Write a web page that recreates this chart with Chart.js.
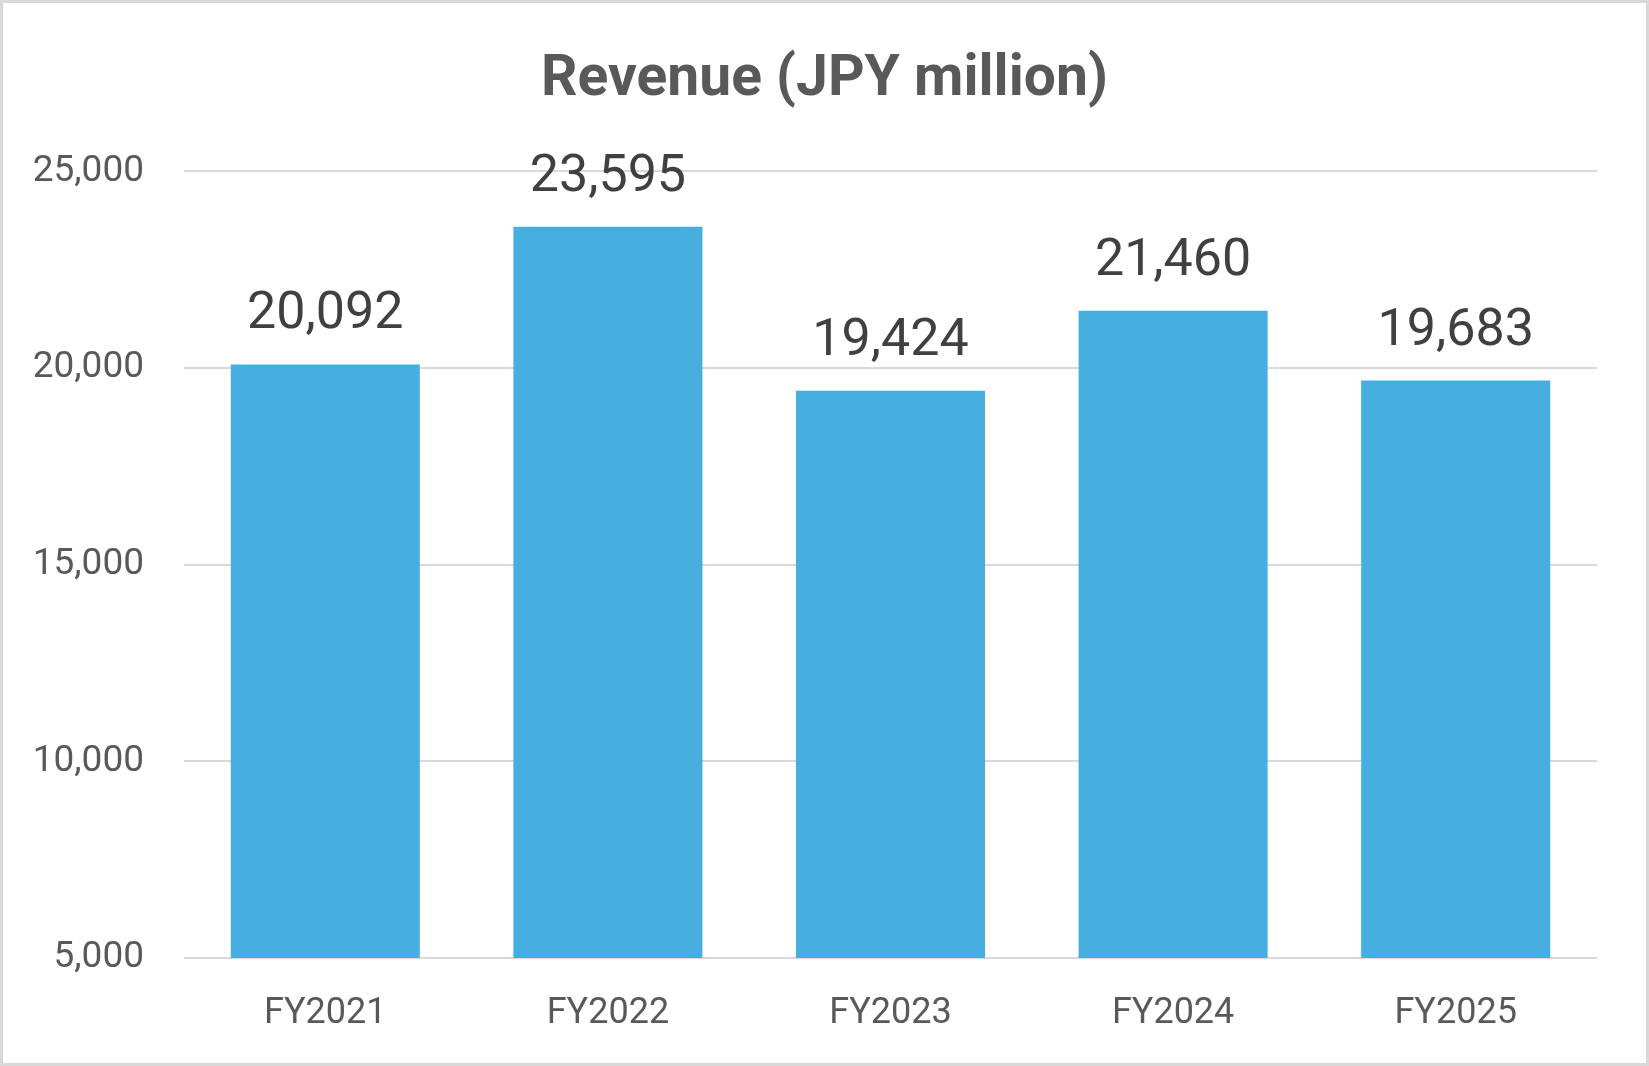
<!DOCTYPE html>
<html>
<head>
<meta charset="utf-8">
<script src="https://cdn.jsdelivr.net/npm/chart.js@4.4.1/dist/chart.umd.min.js"></script>
<style>
  html, body { margin: 0; padding: 0; background: #ffffff; overflow: hidden; }
  #wrap { position: absolute; left: 0; top: 0; width: 1649px; height: 1066px; }
  #frame { position: absolute; left: 0; top: 0; width: 1649px; height: 1066px; box-sizing: border-box; border: 3px solid #d9d9d9; pointer-events: none; }
</style>
</head>
<body>
<div id="wrap"><canvas id="c" width="1649" height="1066"></canvas></div>
<div id="frame"></div>
<script>
const categories = ["FY2021", "FY2022", "FY2023", "FY2024", "FY2025"];
const revenue = [20092, 23595, 19424, 21460, 19683];
const yTicks = [5000, 10000, 15000, 20000, 25000];
const titleText = "Revenue (JPY million)";

const fmt = v => Number(v).toLocaleString('en-US');

const valueLabels = {
  id: 'valueLabels',
  afterDatasetsDraw(chart) {
    const ctx = chart.ctx;
    const meta = chart.getDatasetMeta(0);
    ctx.save();
    ctx.font = '52px Roboto';
    ctx.fillStyle = '#404040';
    ctx.textAlign = 'center';
    ctx.textBaseline = 'alphabetic';
    meta.data.forEach((bar, i) => {
      ctx.fillText(fmt(revenue[i]), bar.x, bar.y - 36);
    });
    ctx.restore();
  }
};

const centerTitle = {
  id: 'centerTitle',
  afterLayout(chart) {
    const t = chart.titleBlock;
    if (t) { t.left = 0; t.right = chart.width; t.width = chart.width; }
  }
};

new Chart(document.getElementById('c'), {
  type: 'bar',
  data: {
    labels: categories,
    datasets: [{
      data: revenue,
      backgroundColor: '#46afe0',
      borderWidth: 0,
      categoryPercentage: 1.0,
      barPercentage: 0.669
    }]
  },
  options: {
    responsive: false,
    animation: false,
    devicePixelRatio: 1,
    layout: { padding: { left: 0, right: 52, top: 0, bottom: -4 } },
    plugins: {
      legend: { display: false },
      tooltip: { enabled: false },
      title: {
        display: true,
        text: titleText,
        color: '#595959',
        font: { family: 'Roboto', size: 57, weight: 'bold', lineHeight: 1.2 },
        padding: { top: 47, bottom: 56 }
      }
    },
    scales: {
      x: {
        grid: { display: false, drawTicks: false },
        border: { display: false },
        ticks: {
          color: '#595959',
          font: { family: 'Roboto', size: 36, lineHeight: 1.0 },
          padding: 38,
          maxRotation: 0
        }
      },
      y: {
        min: 5000,
        max: 25000,
        afterBuildTicks(scale) { scale.ticks = yTicks.map(v => ({ value: v })); },
        afterFit(scale) { scale.width = 184; },
        grid: { color: '#d9d9d9', lineWidth: 2, drawTicks: false },
        border: { display: false },
        ticks: {
          color: '#595959',
          font: { family: 'Roboto', size: 37, lineHeight: 1.2 },
          padding: 40,
          callback: v => fmt(v)
        }
      }
    }
  },
  plugins: [valueLabels, centerTitle]
});
</script>
</body>
</html>
